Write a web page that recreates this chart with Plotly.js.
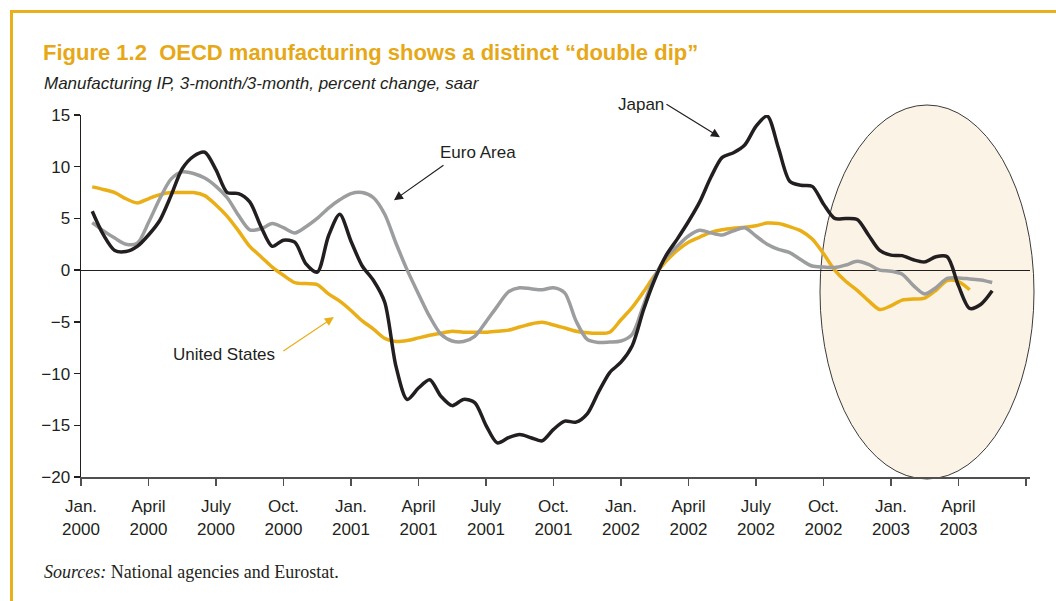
<!DOCTYPE html>
<html>
<head>
<meta charset="utf-8">
<script src="https://cdn.plot.ly/plotly-3.0.1.min.js"></script>
<style>
  html, body { margin: 0; padding: 0; background: #ffffff; }
  #wrap { position: relative; width: 1056px; height: 601px; overflow: hidden; }
  #chart { position: absolute; left: 0; top: 0; width: 1056px; height: 601px; }
  #frame { position: absolute; left: 10px; top: 10px; width: 1060px; height: 600px;
           border-top: 3px solid #EAB01C; border-left: 3px solid #EAB01C; pointer-events: none; }
</style>
</head>
<body>
<div id="wrap">
  <div id="chart"></div>
  <div id="frame"></div>
</div>
<script>
// Months since January 2000 (half-month steps)
const months = [0.5,1,1.5,2,2.5,3,3.5,4,4.5,5,5.5,6,6.5,7,7.5,8,8.5,9,9.5,10,
  10.5,11,11.5,12,12.5,13,13.5,14,14.5,15,15.5,16,16.5,17,17.5,18,18.5,19,19.5,20,
  20.5,21,21.5,22,22.5,23,23.5,24,24.5,25,25.5,26,26.5,27,27.5,28,28.5,29,29.5,30,
  30.5,31,31.5,32,32.5,33,33.5,34,34.5,35,35.5,36,36.5,37,37.5,38,38.5,39,39.5,40,40.5];

// Manufacturing IP, 3-month/3-month, percent change, saar
const japan = [5.7,3.4,1.9,1.8,2.3,3.4,4.8,7.2,9.8,11.0,11.4,9.7,7.5,7.4,6.6,4.2,2.3,2.9,2.7,0.6,
  -0.2,3.3,5.4,2.8,0.4,-1.0,-3.1,-9.3,-12.5,-11.4,-10.6,-12.2,-13.1,-12.5,-12.8,-15.0,-16.7,-16.2,-15.9,-16.2,
  -16.5,-15.4,-14.6,-14.7,-13.9,-11.8,-9.9,-8.9,-7.3,-3.85,-0.9,1.4,3.0,4.7,6.6,9.0,10.9,11.35,12.1,13.9,
  14.9,11.8,8.6,8.2,8.1,6.4,5.0,5.0,4.9,3.4,1.9,1.45,1.4,1.0,0.8,1.3,1.3,-1.5,-3.7,-3.3,-2.0];

const euroArea = [4.6,3.8,3.1,2.5,2.6,4.6,6.9,8.8,9.5,9.35,8.9,8.1,7.0,5.3,3.9,4.0,4.5,4.1,3.6,4.2,
  5.0,6.0,6.8,7.4,7.5,7.0,5.4,2.6,0.0,-2.3,-4.5,-6.2,-6.85,-6.9,-6.4,-5.0,-3.5,-2.1,-1.7,-1.8,
  -1.9,-1.7,-2.2,-4.9,-6.7,-7.0,-6.95,-6.85,-6.2,-3.4,-0.6,1.2,2.3,3.3,3.85,3.6,3.4,3.8,4.1,3.3,
  2.5,2.0,1.7,1.0,0.4,0.3,0.25,0.5,0.85,0.55,0.0,-0.1,-0.4,-1.5,-2.3,-1.7,-0.8,-0.75,-0.85,-0.95,-1.2];

const unitedStates = [8.05,7.8,7.5,6.9,6.5,6.9,7.3,7.5,7.5,7.5,7.2,6.3,5.2,3.8,2.3,1.3,0.3,-0.5,-1.2,-1.3,
  -1.4,-2.3,-3.0,-3.9,-4.9,-5.7,-6.6,-6.9,-6.8,-6.55,-6.3,-6.1,-5.9,-6.0,-6.0,-6.0,-5.9,-5.8,-5.5,-5.2,
  -5.05,-5.3,-5.6,-5.9,-6.05,-6.1,-6.0,-4.8,-3.6,-2.1,-0.5,0.85,1.9,2.7,3.2,3.65,3.9,4.05,4.15,4.3,
  4.55,4.5,4.2,3.8,3.0,1.6,0.0,-1.1,-1.95,-2.95,-3.8,-3.45,-2.9,-2.8,-2.7,-1.95,-1.0,-1.1,-1.9,null,null];

const tickMonths = [0,3,6,9,12,15,18,21,24,27,30,33,36,39,42];
const tickLabels = ["Jan.<br>2000","April<br>2000","July<br>2000","Oct.<br>2000",
  "Jan.<br>2001","April<br>2001","July<br>2001","Oct.<br>2001",
  "Jan.<br>2002","April<br>2002","July<br>2002","Oct.<br>2002",
  "Jan.<br>2003","April<br>2003",""];
const yTicks = [-20,-15,-10,-5,0,5,10,15];

const FONT = "'Liberation Sans', Arial, Helvetica, sans-serif";
const INK = "#231f20";
const GOLD = "#EAAE17";

const traces = [
  {x: months, y: unitedStates, name: "United States", type: "scatter", mode: "lines",
   line: {color: GOLD, width: 3.5, shape: "spline", smoothing: 0.8}},
  {x: months, y: euroArea, name: "Euro Area", type: "scatter", mode: "lines",
   line: {color: "#9c9d9f", width: 3.5, shape: "spline", smoothing: 0.8}},
  {x: months, y: japan, name: "Japan", type: "scatter", mode: "lines",
   line: {color: INK, width: 3.5, shape: "spline", smoothing: 0.8}}
];

const layout = {
  width: 1056, height: 601,
  margin: {l: 81, r: 26, t: 115, b: 124},
  paper_bgcolor: "rgba(0,0,0,0)",
  plot_bgcolor: "rgba(0,0,0,0)",
  showlegend: false,
  font: {family: FONT, size: 17, color: INK},
  title: {
    text: "<b>Figure 1.2  OECD manufacturing shows a distinct \u201cdouble dip\u201d</b>",
    font: {family: FONT, size: 22, color: "#E6A817"},
    xref: "container", yref: "container", x: 43/1056, xanchor: "left",
    y: 1 - 52/601, yanchor: "middle"
  },
  xaxis: {
    range: [0, 42.18], tickmode: "array", tickvals: tickMonths, ticktext: tickLabels,
    showgrid: false, zeroline: false, showline: true, linecolor: "#505050", linewidth: 2,
    ticks: "outside", ticklen: 7, tickwidth: 1.3, tickcolor: "#505050",
    tickfont: {family: FONT, size: 17, color: INK}, ticklabelstandoff: 6, fixedrange: true
  },
  yaxis: {
    range: [-20, 15], tickmode: "array", tickvals: yTicks,
    showgrid: false, zeroline: true, zerolinecolor: INK, zerolinewidth: 1.2,
    showline: true, linecolor: INK, linewidth: 1.5,
    ticks: "outside", ticklen: 6, tickwidth: 1.3, tickcolor: INK,
    tickfont: {family: FONT, size: 17, color: INK}, fixedrange: true
  },
  shapes: [
    {type: "circle", xref: "paper", yref: "paper", layer: "below",
     x0: (820-81)/949, x1: (1034-81)/949, y0: (477-479)/362, y1: (477-105)/362,
     fillcolor: "#FBF3E5", line: {color: "#3a3a3a", width: 1}}
  ],
  annotations: [
    {xref: "paper", yref: "paper", x: -39/949, y: (477-84)/362, xanchor: "left", yanchor: "middle",
     showarrow: false, text: "<i>Manufacturing IP, 3-month/3-month, percent change, saar</i>",
     font: {family: FONT, size: 17, color: INK}},
    {xref: "paper", yref: "paper", x: -39/949, y: (477-572)/362, xanchor: "left", yanchor: "middle",
     showarrow: false, text: "<i>Sources:</i> National agencies and Eurostat.",
     font: {family: "'Liberation Serif', 'Times New Roman', serif", size: 18, color: INK}},
    // labels
    {xref: "paper", yref: "paper", x: (641-81)/949, y: (477-93)/362, showarrow: false, text: "Japan",
     font: {family: FONT, size: 17, color: INK}},
    {xref: "x", yref: "y", x: 17.64, y: 11.4, showarrow: false, text: "Euro Area",
     font: {family: FONT, size: 17, color: INK}},
    {xref: "x", yref: "y", x: 6.36, y: -8.2, showarrow: false, text: "United States",
     font: {family: FONT, size: 17, color: INK}},
    // arrows
    {xref: "x", yref: "y", x: 28.4, y: 12.85, ax: -55, ay: -34, text: " ", font: {size: 1},
     showarrow: true, arrowhead: 2, arrowsize: 1.5, arrowwidth: 1.2, arrowcolor: INK},
    {xref: "x", yref: "y", x: 13.91, y: 6.76, ax: 51, ay: -36, text: " ", font: {size: 1},
     showarrow: true, arrowhead: 2, arrowsize: 1.5, arrowwidth: 1.2, arrowcolor: INK},
    {xref: "x", yref: "y", x: 11.24, y: -4.54, ax: -52, ay: 35, text: " ", font: {size: 1},
     showarrow: true, arrowhead: 2, arrowsize: 1.5, arrowwidth: 1.2, arrowcolor: GOLD}
  ]
};

Plotly.newPlot("chart", traces, layout, {displayModeBar: false, staticPlot: true});
</script>
</body>
</html>
